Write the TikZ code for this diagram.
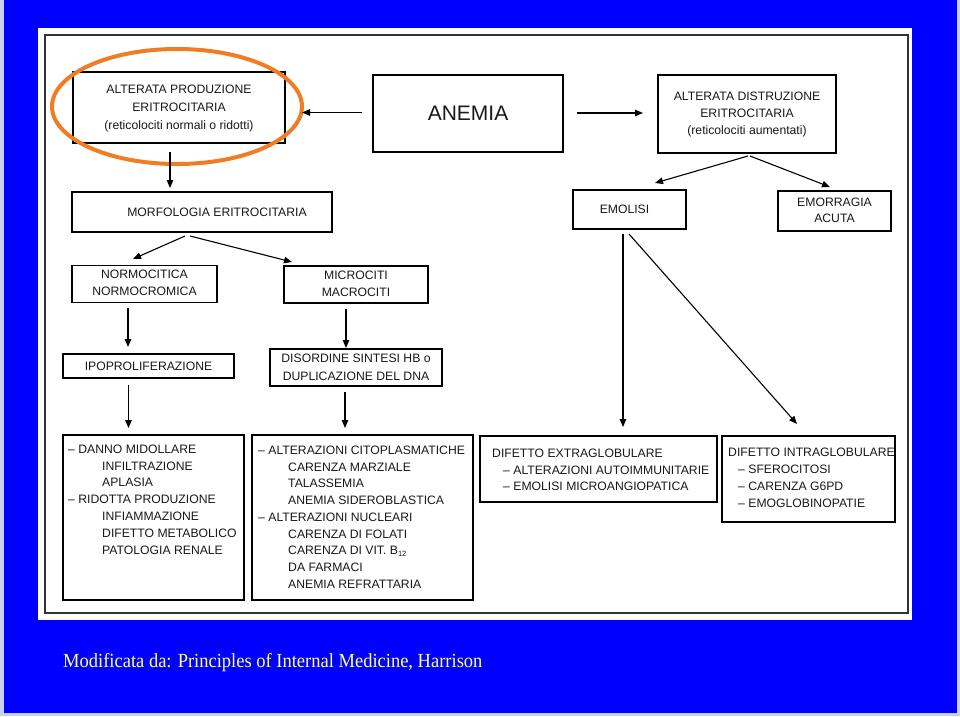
\documentclass[tikz,border=0pt]{standalone}
\usepackage{fontspec}
\setmainfont{Liberation Sans}
\newfontfamily\capfont{Liberation Serif}
\usetikzlibrary{arrows.meta,shapes.geometric}
\definecolor{slideblue}{RGB}{0,0,255}
\definecolor{slideedge}{RGB}{200,210,240}
\definecolor{hlorange}{RGB}{240,125,35}
\definecolor{capyellow}{RGB}{255,255,140}
\begin{document}
\begin{tikzpicture}[x=1pt,y=-1pt,
  box/.style={draw=black, line width=1.1pt, inner sep=0pt, align=center, text=black!90,
              font=\fontsize{12.2}{17}\selectfont},
  listtxt/.style={inner sep=0pt, align=left, anchor=north west, text=black!90,
              font=\fontsize{12.2}{16.8}\selectfont},
  arr/.style={draw=black, line width=1.1pt, -{Triangle[length=8pt,width=6.5pt]}}
]
\useasboundingbox (0,0) rectangle (960,716);
% background
\fill[slideedge] (0,0) rectangle (960,716);
\fill[slideblue] (4,0) rectangle (957,713);
\fill[white] (38,28) rectangle (912,620);
\draw[black!80, line width=1.4pt] (45,35) rectangle (908,613);

% top row
\node[box, minimum width=212pt, minimum height=71pt, font=\fontsize{12.2}{18}\selectfont] (prod) at (179,107.5)
  {\strut ALTERATA PRODUZIONE\\\strut ERITROCITARIA\\\strut (reticolociti normali o ridotti)};
\node[box, minimum width=190pt, minimum height=77pt, font=\fontsize{21}{24}\selectfont] (anemia) at (468,113.5) {ANEMIA};
\node[box, minimum width=178pt, minimum height=78pt] (distr) at (747,114)
  {\strut ALTERATA DISTRUZIONE\\\strut ERITROCITARIA\\\strut (reticolociti aumentati)};

% highlight ellipse
\node[ellipse, draw=hlorange, line width=4pt, minimum width=250pt, minimum height=115pt, inner sep=0pt] (hl) at (177,106.5) {};

% second row
\node[box, minimum width=260pt, minimum height=40pt] (morf) at (202,212) {\hspace*{30pt}MORFOLOGIA ERITROCITARIA};
\node[box, minimum width=113pt, minimum height=39pt] (emol) at (629.5,209.5) {\hspace*{-10pt}EMOLISI};
\node[box, minimum width=113pt, minimum height=40pt, font=\fontsize{12.2}{16}\selectfont] (emor) at (834.5,211) {\strut EMORRAGIA\\\strut ACUTA};

% third row
\node[box, minimum width=145pt, minimum height=37pt] (normo) at (144.5,284) {\strut NORMOCITICA\\\strut NORMOCROMICA};
\node[box, minimum width=144pt, minimum height=37pt] (micro) at (356,284.5) {\strut MICROCITI\\\strut MACROCITI};

% fourth row
\node[box, minimum width=171pt, minimum height=24pt] (ipo) at (148.5,366) {IPOPROLIFERAZIONE};
\node[box, minimum width=172pt, minimum height=37pt, font=\fontsize{12.2}{18}\selectfont] (dis) at (356,367.5)
  {\strut DISORDINE SINTESI HB o\\\strut DUPLICAZIONE DEL DNA};

% bottom boxes
\node[box, minimum width=181pt, minimum height=165pt] (danno) at (153.5,517.5) {};
\node[box, minimum width=221pt, minimum height=165pt] (alter) at (362.5,517.5) {};
\node[box, minimum width=237pt, minimum height=66pt] (extra) at (598.5,469) {};
\node[box, minimum width=173pt, minimum height=86pt] (intra) at (808.5,479) {};

\node[listtxt] (tdanno) at (68,441.4) {%
\strut – DANNO MIDOLLARE\\
\strut\hspace*{34pt}INFILTRAZIONE\\
\strut\hspace*{34pt}APLASIA\\
\strut – RIDOTTA PRODUZIONE\\
\strut\hspace*{34pt}INFIAMMAZIONE\\
\strut\hspace*{34pt}DIFETTO METABOLICO\\
\strut\hspace*{34pt}PATOLOGIA RENALE};

\node[listtxt, font=\fontsize{12.2}{16.75}\selectfont] (talter) at (258,442.4) {%
\strut – ALTERAZIONI CITOPLASMATICHE\\
\strut\hspace*{30pt}CARENZA MARZIALE\\
\strut\hspace*{30pt}TALASSEMIA\\
\strut\hspace*{30pt}ANEMIA SIDEROBLASTICA\\
\strut – ALTERAZIONI NUCLEARI\\
\strut\hspace*{30pt}CARENZA DI FOLATI\\
\strut\hspace*{30pt}CARENZA DI VIT. B{\fontsize{7.5}{8}\selectfont\raisebox{-1.5pt}{12}}\\
\strut\hspace*{30pt}DA FARMACI\\
\strut\hspace*{30pt}ANEMIA REFRATTARIA};

\node[listtxt, font=\fontsize{12.2}{16.8}\selectfont] (textra) at (492,445.4) {%
\strut DIFETTO EXTRAGLOBULARE\\
\strut\hspace*{11pt}– ALTERAZIONI AUTOIMMUNITARIE\\
\strut\hspace*{11pt}– EMOLISI MICROANGIOPATICA};

\node[listtxt, font=\fontsize{12.2}{16.8}\selectfont] (tintra) at (728,444.9) {%
\strut DIFETTO INTRAGLOBULARE\\
\strut\hspace*{10pt}– SFEROCITOSI\\
\strut\hspace*{10pt}– CARENZA G6PD\\
\strut\hspace*{10pt}– EMOGLOBINOPATIE};

% connector end points
\coordinate (c1a) at (362,112.5); \coordinate (c1b) at (302,112.5);
\coordinate (c2a) at (577,113);   \coordinate (c2b) at (643,113);
\coordinate (c3a) at (170,152);   \coordinate (c3b) at (170,188);
\coordinate (c4a) at (185,236);   \coordinate (c4b) at (133,259);
\coordinate (c5a) at (190,236);   \coordinate (c5b) at (292,262);
\coordinate (c6a) at (748,156);   \coordinate (c6b) at (655,183);
\coordinate (c7a) at (750,156);   \coordinate (c7b) at (830,187);
\coordinate (c8a) at (623,234);   \coordinate (c8b) at (623,427);
\coordinate (c9a) at (629,234);   \coordinate (c9b) at (797,424);
\coordinate (c10a) at (128,308);  \coordinate (c10b) at (128,347);
\coordinate (c11a) at (346,309);  \coordinate (c11b) at (346,348);
\coordinate (c12a) at (128.5,385); \coordinate (c12b) at (128.5,428);
\coordinate (c13a) at (345,392);  \coordinate (c13b) at (345,428);

\draw[arr] (c1a) -- (c1b);
\draw[arr] (c2a) -- (c2b);
\draw[arr] (c3a) -- (c3b);
\draw[arr] (c4a) -- (c4b);
\draw[arr] (c5a) -- (c5b);
\draw[arr] (c6a) -- (c6b);
\draw[arr] (c7a) -- (c7b);
\draw[arr] (c8a) -- (c8b);
\draw[arr] (c9a) -- (c9b);
\draw[arr] (c10a) -- (c10b);
\draw[arr] (c11a) -- (c11b);
\draw[arr] (c12a) -- (c12b);
\draw[arr] (c13a) -- (c13b);

% caption
\node[anchor=base west, inner sep=0pt, text=capyellow, font=\capfont\fontsize{20}{24}\selectfont] (cap) at (63,667)
  {\scalebox{0.925}[1]{Modificata da: Principles of Internal Medicine, Harrison}};
\end{tikzpicture}
\end{document}
